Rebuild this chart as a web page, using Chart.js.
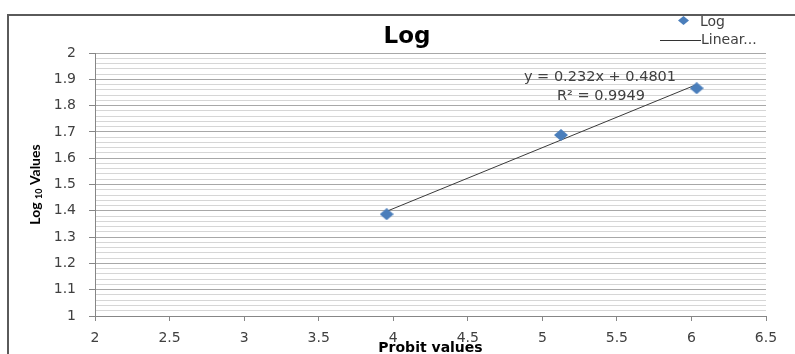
<!DOCTYPE html>
<html>
<head>
<meta charset="utf-8">
<script src="https://cdn.jsdelivr.net/npm/chart.js@4.4.1/dist/chart.umd.min.js"></script>
<style>
  html, body { margin: 0; padding: 0; background: #fff; }
</style>
</head>
<body>
<canvas id="chart" width="795" height="354"></canvas>
<script>
'use strict';

// Data
const probitValues = [3.956, 5.125, 6.035];
const logValues = [1.387, 1.688, 1.866];
// Linear trendline end points (y = 0.232x + 0.4801)
const trendX = [3.956, 6.035];
const trendY = [1.398, 1.880];

const chartTitle = 'Log';
const xAxisTitle = 'Probit values';
const equationLines = ['y = 0.232x + 0.4801', 'R² = 0.9949'];
const legendLabels = ['Log', 'Linear...'];

const markerColor = '#4a7ebb';
const axisColor = '#868686';
const majorGrid = '#a8a8a8';
const minorGrid = '#d6d6d6';
const labelColor = '#404040';
const fontFamily = '"DejaVu Sans", sans-serif';
const narrowFamily = 'Lato, sans-serif';

function isMajor(value) {
  return Math.round(value * 50) % 5 === 0;
}

// slightly wide diamond marker, like the Excel one
function makeDiamond(w, h) {
  const c = document.createElement('canvas');
  c.width = w;
  c.height = h;
  const g = c.getContext('2d');
  g.fillStyle = markerColor;
  g.beginPath();
  g.moveTo(w / 2, 0);
  g.lineTo(w, h / 2);
  g.lineTo(w / 2, h);
  g.lineTo(0, h / 2);
  g.closePath();
  g.fill();
  return c;
}

const diamondMarker = makeDiamond(14, 12);
const legendDiamond = makeDiamond(11, 9);

const decorPlugin = {
  id: 'decor',
  afterDraw(chart) {
    const { ctx, chartArea } = chart;
    ctx.save();

    // outer frame (only top and left edges are visible in the crop)
    ctx.strokeStyle = '#5a5a5a';
    ctx.lineWidth = 2;
    ctx.beginPath();
    ctx.moveTo(8, 354);
    ctx.lineTo(8, 15);
    ctx.lineTo(795, 15);
    ctx.stroke();

    // title
    ctx.fillStyle = '#000';
    ctx.font = 'bold 23px ' + fontFamily;
    ctx.textAlign = 'center';
    ctx.textBaseline = 'alphabetic';
    ctx.fillText(chartTitle, 407, 43);

    // legend
    ctx.drawImage(legendDiamond, 678, 16);
    ctx.strokeStyle = '#333';
    ctx.lineWidth = 1;
    ctx.beginPath();
    ctx.moveTo(660, 40.5);
    ctx.lineTo(701, 40.5);
    ctx.stroke();
    ctx.fillStyle = labelColor;
    ctx.font = '14px ' + fontFamily;
    ctx.textAlign = 'left';
    ctx.textBaseline = 'middle';
    ctx.fillText(legendLabels[0], 700, 22);
    ctx.fillText(legendLabels[1], 701, 40);

    // trendline equation
    ctx.font = '14.5px ' + fontFamily;
    ctx.textAlign = 'center';
    ctx.fillText(equationLines[0], 600, 77);
    ctx.fillText(equationLines[1], 601, 96);

    // x axis title
    ctx.fillStyle = '#000';
    ctx.font = 'bold 14px ' + fontFamily;
    ctx.fillText(xAxisTitle, (chartArea.left + chartArea.right) / 2, 348);

    // y axis title with subscript
    const cy = (chartArea.top + chartArea.bottom) / 2;
    ctx.translate(35, cy);
    ctx.rotate(-Math.PI / 2);
    ctx.textAlign = 'left';
    const mainFont = 'bold 14px ' + narrowFamily;
    const subFont = 'bold 9px ' + narrowFamily;
    ctx.font = mainFont;
    const w1 = ctx.measureText('Log ').width;
    const w3 = ctx.measureText(' Values').width;
    ctx.font = subFont;
    const w2 = ctx.measureText('10').width;
    let x = -(w1 + w2 + w3) / 2;
    ctx.font = mainFont;
    ctx.fillText('Log ', x, 0);
    x += w1;
    ctx.font = subFont;
    ctx.fillText('10', x, 4);
    x += w2;
    ctx.font = mainFont;
    ctx.fillText(' Values', x, 0);

    ctx.restore();
  },
};

new Chart(document.getElementById('chart'), {
  type: 'scatter',
  data: {
    datasets: [
      {
        label: legendLabels[0],
        data: probitValues.map((x, i) => ({ x, y: logValues[i] })),
        pointStyle: diamondMarker,
        pointRadius: 7,
        backgroundColor: markerColor,
        borderColor: markerColor,
      },
      {
        label: legendLabels[1],
        data: trendX.map((x, i) => ({ x, y: trendY[i] })),
        showLine: true,
        pointRadius: 0,
        borderColor: '#3a3a3a',
        borderWidth: 1,
      },
    ],
  },
  options: {
    responsive: false,
    animation: false,
    layout: { padding: { left: 0, top: 53, right: 29, bottom: 0 } },
    plugins: {
      legend: { display: false },
      title: { display: false },
      tooltip: { enabled: false },
    },
    scales: {
      x: {
        type: 'linear',
        min: 2,
        max: 6.5,
        afterFit: (scale) => { scale.height = 38; },
        ticks: {
          stepSize: 0.5,
          color: labelColor,
          padding: 9,
          font: { family: fontFamily, size: 14 },
          maxRotation: 0,
          callback: (value) => String(value),
        },
        grid: {
          drawOnChartArea: false,
          tickLength: 5,
          tickColor: axisColor,
        },
        border: { color: axisColor },
      },
      y: {
        type: 'linear',
        min: 1,
        max: 2,
        afterFit: (scale) => { scale.width = 95; },
        ticks: {
          stepSize: 0.02,
          autoSkip: false,
          maxTicksLimit: 100,
          color: labelColor,
          padding: 13,
          font: { family: fontFamily, size: 14 },
          callback: (value) => (isMajor(value) ? String(Math.round(value * 10) / 10) : ''),
        },
        grid: {
          tickLength: 6,
          color: (c) => (c.tick && isMajor(c.tick.value) ? majorGrid : minorGrid),
          tickColor: (c) => (c.tick && isMajor(c.tick.value) ? axisColor : 'rgba(0,0,0,0)'),
        },
        border: { color: axisColor },
      },
    },
  },
  plugins: [decorPlugin],
});
</script>
</body>
</html>
